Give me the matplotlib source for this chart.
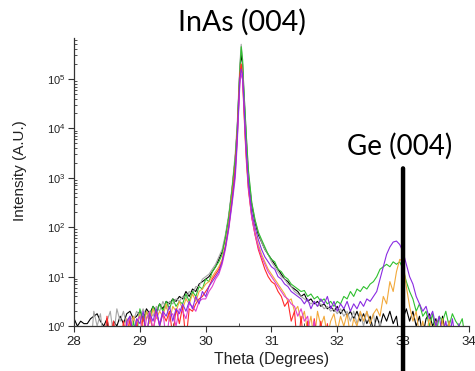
#!/usr/bin/env python3
"""XRD theta scan: InAs (004) and Ge (004) reflections, log intensity."""
import numpy as np
import matplotlib
matplotlib.use('Agg')
import matplotlib.pyplot as plt
from matplotlib.ticker import LogLocator, MultipleLocator, NullFormatter

# theta grid: left flank, dense points over the InAs peak, right flank
THETA_LEFT = np.linspace(28.0, 30.4, 49)
THETA_PEAK = [30.45, 30.48, 30.50, 30.52, 30.54, 30.56, 30.58, 30.60, 30.62]
THETA_RIGHT = np.linspace(30.65, 34.0, 68)

# log10(intensity); -0.5 means under the axis floor
BLACK_LEFT = [.15, .0, .1, .05, .05, .15, .2, .25, .1, .0,
              .15, -.3, .1, .0, .2, .05, .25, .3, .15, .2,
              .3, .15, .35, .25, .4, .3, .45, .35, .5, .45,
              .55, .5, .6, .55, .7, .6, .75, .7, .85, .9,
              .95, 1.0, 1.1, 1.2, 1.35, 1.5, 1.8, 2.2, 2.75]
BLACK_PEAK = [3.4, 4.0, 4.6, 5.2, 5.5, 5.3, 4.7, 4.2, 3.7]
BLACK_RIGHT = [3.0, 2.45, 2.1, 1.85, 1.7, 1.55, 1.45, 1.35, 1.25, 1.15,
               1.05, .95, .9, .8, .75, .7, .6, .65, .5, .55,
               .45, .5, .4, .45, .35, .4, .3, .4, .25, .35,
               .2, .3, .15, .3, .1, .25, .05, .2, -.1, .2,
               .0, .25, .1, .3, .05, .2, -.3, .15, .35, .1,
               .3, .0, .2, -.2, .15, .25, .0, .15, -.3, .2,
               -.2, .1, -.4, -.5, -.5, -.5, -.5, -.5]

GRAY_LEFT = [-.5, -.5, -.5, -.5, -.5, -.5, .3, .0, .25, -.3,
             .1, .3, -.2, .35, .1, .3, .0, .2, .1, .3,
             .2, .35, .15, .3, .2, .4, .3, .5, .35, .5,
             .45, .55, .5, .6, .55, .7, .65, .8, .8, .95,
             1.0, 1.05, 1.15, 1.25, 1.4, 1.55, 1.85, 2.25, 2.8]
GRAY_PEAK = [3.5, 4.1, 4.7, 5.3, 5.7, 5.4, 4.8, 4.3, 3.8]
GRAY_RIGHT = [3.1, 2.5, 2.15, 1.9, 1.7, 1.55, 1.45, 1.3, 1.2, 1.1,
              1.0, .95, .85, .8, .7, .65, .6, .55, .5, .45,
              .5, .4, .45, .35, .4, .3, .35, .25, .35, .2,
              .3, .1, .3, .05, .25, .0, .3, .05, .25, -.2,
              .1, -.3] + [-.5] * 26

GREEN_LEFT = [-.5, -.5, -.5, -.5, -.5, -.5, -.5, -.5, -.5, -.5,
              -.5, -.5, -.5, -.5, -.5, -.5, -.5, -.5, .1, -.2,
              .35, .1, .3, .15, .4, .25, .45, .3, .5, .35,
              .55, .4, .5, .45, .65, .5, .7, .6, .8, .75,
              .95, .9, 1.1, 1.2, 1.3, 1.45, 1.8, 2.2, 2.75]
GREEN_PEAK = [3.4, 4.0, 4.6, 5.2, 5.65, 5.4, 4.8, 4.3, 3.8]
GREEN_RIGHT = [3.15, 2.5, 2.15, 1.9, 1.75, 1.6, 1.45, 1.35, 1.3, 1.15,
               1.1, 1.0, .95, .85, .8, .75, .7, .72, .6, .65,
               .55, .6, .5, .55, .45, .5, .4, .5, .45, .6,
               .55, .7, .6, .75, .7, .8, .75, .85, .9, 1.0,
               1.15, 1.2, 1.25, 1.2, 1.3, 1.25, 1.3, 1.15, .9, .7,
               .55, .3, .45, .2, .3, .0, .25, -.2, .2, .1,
               .3, .0, .25, .1, .0, .15, -.3, -.5]

ORANGE_LEFT = [-.5, -.5, -.5, -.5, -.5, -.5, -.5, -.5, -.5, -.5,
               -.5, -.5, -.5, -.5, -.5, -.5, .15, -.1, .2, .0,
               .25, -.1, .3, .05, .35, .15, .3, .2, .45, .1,
               .4, .3, .5, .35, .55, .45, .65, .5, .7, .75,
               .85, .9, 1.0, 1.1, 1.2, 1.35, 1.65, 2.05, 2.6]
ORANGE_PEAK = [3.2, 3.8, 4.4, 5.0, 5.3, 5.1, 4.5, 3.9, 3.4]
ORANGE_RIGHT = [2.8, 2.25, 1.9, 1.65, 1.45, 1.3, 1.15, 1.05, .95, .85,
                .75, .65, .5, .55, .3, .4, .1, .3, -.1, .2,
                -.3, .3, .0, .2, -.2, .1, .25, -.1, .2, .0,
                .25, -.2, .15, .0, .3, .1, .3, .05, .25, .35,
                .2, .6, .45, .9, .7, 1.1, 1.35, 1.3, .8, .4,
                .1, .3, -.2, .1, -.3, .2, -.2, .1, -.3, .15,
                -.5, .1, -.5, -.5, -.5, -.5, -.5, -.5]

RED_LEFT = [-.5, -.5, -.5, -.5, -.5, -.5, -.5, -.5, -.5, -.5,
            .2, -.3, .1, -.5, -.5, .1, -.3, .15, -.5, .1,
            -.3, .2, -.2, .25, -.1, .3, .0, .25, .1, .3,
            -.2, .35, .05, .4, -.3, .35, .3, .45, .55, .6,
            .7, .8, .95, 1.05, 1.15, 1.3, 1.6, 2.0, 2.55]
RED_PEAK = [3.2, 3.9, 4.5, 5.1, 5.3, 5.0, 4.4, 3.8, 3.3]
RED_RIGHT = [2.75, 2.2, 1.85, 1.55, 1.35, 1.15, 1.0, .9, .85, .7,
             .6, .4, .5, .1, .3, -.5, .2, -.5, .1, -.5,
             .15, -.3, .1, -.5, .05, -.5, -.5] + [-.5] * 41

PURPLE_LEFT = [-.5, -.5, -.5, -.5, -.5, -.5, -.5, -.5, -.5, -.5,
               -.5, -.5, -.5, -.5, -.5, -.5, .1, .2, -.2, .15,
               .05, .3, -.2, .25, .1, .35, .0, .3, .2, .4,
               .1, .35, .25, .45, .3, .5, .35, .6, .45, .7,
               .6, .8, .9, 1.0, 1.1, 1.3, 1.6, 2.0, 2.5]
PURPLE_PEAK = [3.1, 3.8, 4.4, 5.0, 5.2, 5.1, 4.6, 4.0, 3.5]
PURPLE_RIGHT = [2.9, 2.3, 2.0, 1.75, 1.55, 1.4, 1.3, 1.2, 1.15, 1.0,
                .95, .85, .8, .7, .65, .6, .55, .45, .55, .35,
                .5, .4, .55, .45, .6, .35, .5, .3, .45, .35,
                .5, .3, .45, .35, .5, .4, .55, .5, .6, .7,
                .95, 1.2, 1.45, 1.6, 1.7, 1.72, 1.65, 1.5, 1.25, 1.0,
                .85, .6, .45, .3, .4, .15, .3, .0, .2, -.2,
                .1, -.3, .15, -.3, .05, -.5, -.5, -.5]

MAGENTA_LEFT = [-.5, -.5, -.5, -.5, -.5, -.5, -.5, -.5, -.5, -.5,
                -.5, -.5, -.5, -.5, -.5, -.5, .0, .2, -.2, .1,
                .2, -.3, .15, .3, -.1, .25, .05, .3, -.3, .2,
                .25, .0, .35, .3, .15, .45, .4, .3, .5, .55,
                .55, .7, .8, .95, 1.05, 1.25, 1.55, 1.95, 2.45]
MAGENTA_PEAK = [3.0, 3.7, 4.3, 4.9, 5.1, 5.0, 4.5, 3.9, 3.4]
MAGENTA_RIGHT = [2.8, 2.2, 1.85, 1.6, 1.4, 1.25, 1.1, 1.0, .9, .8,
                 .7, .6, .55, .45, .4, .2, .35, .1, .2, -.3,
                 .1] + [-.5] * 47

SERIES = [
    ('#000000', BLACK_LEFT, BLACK_PEAK, BLACK_RIGHT),
    ('#a6a6a6', GRAY_LEFT, GRAY_PEAK, GRAY_RIGHT),
    ('#2fc02f', GREEN_LEFT, GREEN_PEAK, GREEN_RIGHT),
    ('#f2a93b', ORANGE_LEFT, ORANGE_PEAK, ORANGE_RIGHT),
    ('#ff2a2a', RED_LEFT, RED_PEAK, RED_RIGHT),
    ('#e040d0', MAGENTA_LEFT, MAGENTA_PEAK, MAGENTA_RIGHT),
    ('#8a2be2', PURPLE_LEFT, PURPLE_PEAK, PURPLE_RIGHT),
]

TEXT_COLOR = '#000000'
AXIS_COLOR = '#333333'

theta = np.concatenate([THETA_LEFT, THETA_PEAK, THETA_RIGHT])

fig = plt.figure(figsize=(4.75, 3.71), dpi=100)
fig.patch.set_facecolor('white')
ax = fig.add_axes([0.156, 0.121, 0.831, 0.777])

for color, left, peak, right in SERIES:
    logi = np.concatenate([left, peak, right])
    ax.plot(theta, 10 ** logi, color=color, lw=0.8)

ax.set_yscale('log')
ax.set_xlim(28, 34)
ax.set_ylim(1, 10 ** 5.83)

ax.spines['top'].set_visible(False)
ax.spines['right'].set_visible(False)
for s in ('left', 'bottom'):
    ax.spines[s].set_color(AXIS_COLOR)
    ax.spines[s].set_linewidth(0.9)

ax.xaxis.set_major_locator(MultipleLocator(1))
ax.xaxis.set_minor_locator(MultipleLocator(0.5))
ax.yaxis.set_major_locator(LogLocator(base=10, numticks=10))
ax.yaxis.set_minor_locator(LogLocator(base=10, subs=np.arange(2, 10), numticks=10))
ax.yaxis.set_minor_formatter(NullFormatter())

ax.tick_params(which='major', direction='out', length=4, width=0.8,
               colors=AXIS_COLOR, labelcolor='#222222')
ax.tick_params(which='minor', direction='in', length=2.5, width=0.6, colors=AXIS_COLOR)
ax.tick_params(axis='x', which='major', labelsize=9.5, pad=3)
ax.tick_params(axis='y', which='major', labelsize=8, pad=2)
for lab in ax.get_xticklabels() + ax.get_yticklabels():
    lab.set_fontfamily('Liberation Sans')

ax.set_xlabel('Theta (Degrees)', fontsize=11.3, family='Liberation Sans',
              color='#222222', labelpad=3)
ax.set_ylabel('Intensity (A.U.)', fontsize=11, family='Liberation Sans',
              color='#222222')
ax.yaxis.set_label_coords(-0.12, 0.54)

# peak labels and the Ge marker
fig.text(0.509, 0.941, 'InAs (004)', ha='center', va='center',
         fontsize=20.5, family='Lato', color=TEXT_COLOR)
fig.text(0.842, 0.606, 'Ge (004)', ha='center', va='center',
         fontsize=20, family='Lato', color=TEXT_COLOR)
ax.annotate('', xy=(33, 0), xycoords=('data', 'figure fraction'),
            xytext=(33, 10 ** 3.19), textcoords='data',
            arrowprops=dict(arrowstyle='-', lw=3.2, color='black',
                            shrinkA=0, shrinkB=0))

fig.savefig('out.png', dpi=100, facecolor='white')
plt.close(fig)
